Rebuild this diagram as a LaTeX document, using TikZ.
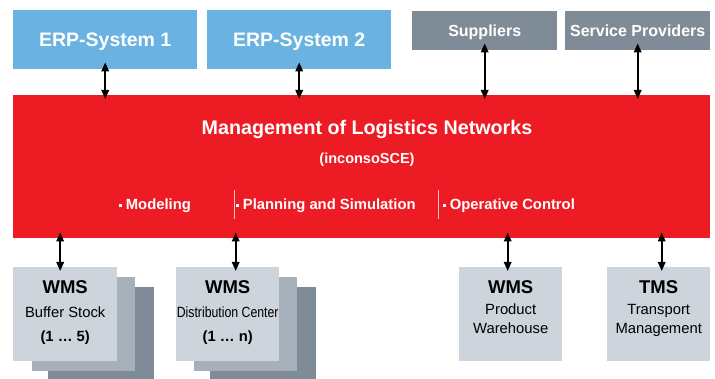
\documentclass[tikz,border=0pt]{standalone}
\usepackage{fontspec}
\setmainfont{Liberation Sans}
\usepackage{tikz}
\usetikzlibrary{arrows.meta,positioning}

\definecolor{erpblue}{HTML}{6AB2E2}
\definecolor{partgray}{HTML}{7F8C97}
\definecolor{lmnred}{HTML}{ED1C24}
\definecolor{boxlight}{HTML}{CDD4DC}
\definecolor{boxmid}{HTML}{A5B0BA}
\definecolor{seppink}{HTML}{F6C6C8}

\newcommand{\sqbul}{\raisebox{0.3ex}{\rule{3.2pt}{3.2pt}}\hspace{3.5pt}}

\tikzset{
  erpbox/.style={fill=erpblue, text=white, font=\bfseries\fontsize{19.5}{22}\selectfont,
    minimum width=184pt, minimum height=59pt, anchor=north west, inner sep=0pt, text depth=0pt},
  partbox/.style={fill=partgray, text=white, font=\bfseries\fontsize{16}{18}\selectfont,
    minimum width=145pt, minimum height=39pt, anchor=north west, inner sep=0pt, text depth=0pt},
  wmsbox/.style={fill=boxlight, minimum width=103pt, minimum height=94pt,
    anchor=north west, inner sep=0pt},
  layerbox/.style={minimum width=104pt, minimum height=94pt, anchor=north west, inner sep=0pt},
  boxtext/.style={align=center, inner sep=0pt, font=\fontsize{14.8}{24}\selectfont},
  itemtext/.style={text=white, anchor=west, inner sep=0pt, font=\bfseries\fontsize{14.8}{16}\selectfont},
  link/.style={{Triangle[length=9pt,width=7.5pt]}-{Triangle[length=9pt,width=7.5pt]}, line width=1.7pt}
}

\begin{document}
\begin{tikzpicture}[x=1pt,y=-1pt]

\useasboundingbox (0,0) rectangle (715,379);

% upper systems
\node[erpbox] (erp1) at (13,10) {ERP-System 1};
\node[erpbox] (erp2) at (207,10) {ERP-System 2};
\node[partbox] (supp) at (412,11) {Suppliers};
\node[partbox] (serv) at (565,11) {Service Providers};

% logistics network
\node[fill=lmnred, minimum width=697pt, minimum height=143pt, anchor=north west, inner sep=0pt] (lmn) at (13,95) {};
\node[text=white, inner sep=0pt, font=\bfseries\fontsize{19.7}{22}\selectfont] (title) at (367,129) {Management of Logistics Networks};
\node[text=white, inner sep=0pt, font=\bfseries\fontsize{14.5}{16}\selectfont] (tool) at (367,160) {(inconsoSCE)};

\node[itemtext] (model) at (119,206) {\sqbul Modeling};
\node[itemtext] (plan) at (236,206) {\sqbul Planning and Simulation};
\node[itemtext] (oper) at (443,206) {\sqbul Operative Control};
\draw[seppink, line width=1pt] (234,190) -- (234,219);
\draw[seppink, line width=1pt] (438,190) -- (438,219);

% lower systems
\node[layerbox, fill=partgray, minimum width=106pt, minimum height=92pt] (wms1c) at (48,287) {};
\node[layerbox, fill=boxmid, minimum width=103pt] (wms1b) at (32,277) {};
\node[wmsbox, minimum width=104pt] (wms1) at (13,267) {};

\node[layerbox, fill=partgray, minimum width=106pt, minimum height=92pt] (wms2c) at (210,287) {};
\node[layerbox, fill=boxmid, minimum width=103pt] (wms2b) at (194,277) {};
\node[wmsbox] (wms2) at (176,267) {};

\node[wmsbox] (wms3) at (459,267) {};
\node[wmsbox] (tms) at (607,267) {};

\node[boxtext, below=13pt of wms1.north] {{\bfseries\fontsize{18.5}{20}\selectfont WMS}\\Buffer Stock\\{\bfseries (1 … 5)}};
\node[boxtext, below=13pt of wms2.north] {{\bfseries\fontsize{18.5}{20}\selectfont WMS}\\\scalebox{0.83}[1]{Distribution Center}\\{\bfseries (1 … n)}};
\node[boxtext, below=13pt of wms3.north, font=\fontsize{14.8}{19}\selectfont] {{\bfseries\fontsize{18.5}{20}\selectfont WMS}\\[2pt]Product\\Warehouse};
\node[boxtext, below=13pt of tms.north, font=\fontsize{14.8}{19}\selectfont] {{\bfseries\fontsize{18.5}{20}\selectfont TMS}\\[2pt]Transport\\Management};

% connections
\draw[link] ([yshift=7pt]erp1.south) -- ([yshift=-4pt]erp1.south |- lmn.north);
\draw[link] ([yshift=7pt]erp2.south) -- ([yshift=-4pt]erp2.south |- lmn.north);
\draw[link] ([yshift=7pt]supp.south) -- ([yshift=-4pt]supp.south |- lmn.north);
\draw[link] ([yshift=7pt]serv.south) -- ([yshift=-4pt]serv.south |- lmn.north);

\draw[link] ([xshift=-5pt,yshift=6pt]wms1.north |- lmn.south) -- ([xshift=-5pt,yshift=-4pt]wms1.north);
\draw[link] ([xshift=8pt,yshift=6pt]wms2.north |- lmn.south) -- ([xshift=8pt,yshift=-4pt]wms2.north);
\draw[link] ([xshift=-3pt,yshift=6pt]wms3.north |- lmn.south) -- ([xshift=-3pt,yshift=-4pt]wms3.north);
\draw[link] ([xshift=3pt,yshift=6pt]tms.north |- lmn.south) -- ([xshift=3pt,yshift=-4pt]tms.north);

\end{tikzpicture}
\end{document}
